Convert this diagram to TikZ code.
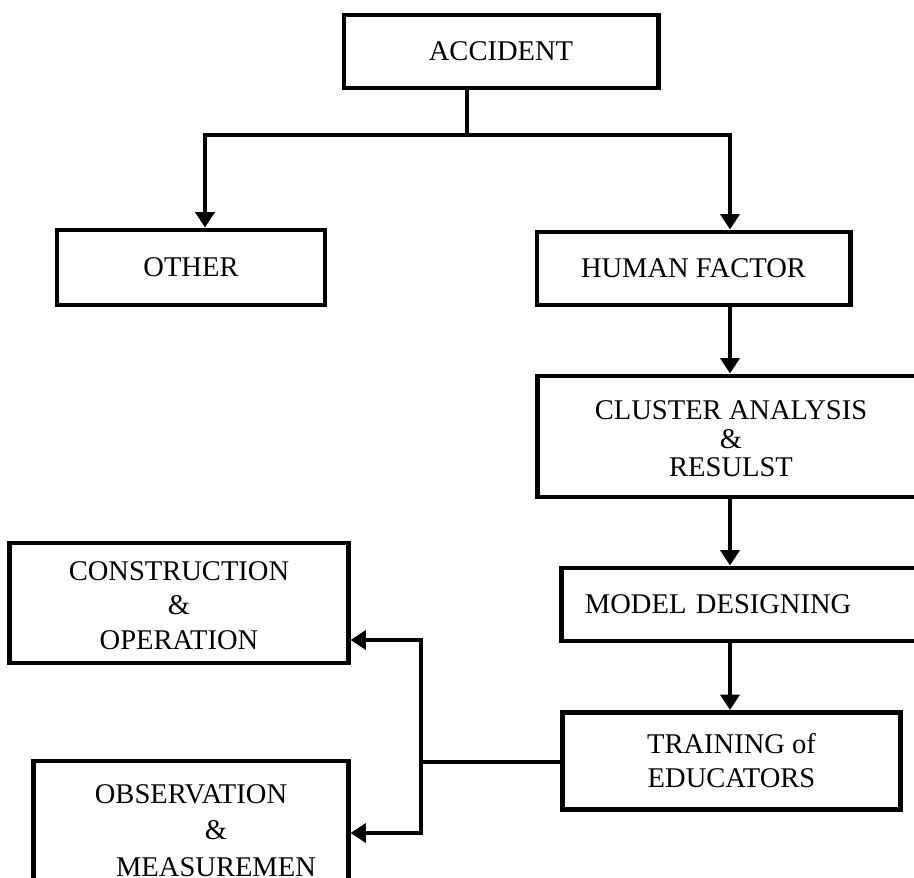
\documentclass[tikz,border=0pt]{standalone}
\usepackage{fontspec}
\setmainfont{Liberation Serif}
\usetikzlibrary{arrows.meta}

\begin{document}
\begin{tikzpicture}[
    x=0.025cm, y=-0.025cm,
    box/.style={draw, line width=3.5pt, inner sep=0pt, align=center,
        font=\fontsize{20.3}{24.5}\selectfont},
    link/.style={line width=3.5pt},
    arr/.style={line width=3.5pt, -{Triangle[length=11pt,width=13.5pt]}}
]
\path[use as bounding box, clip] (0,0) rectangle (914,878);

% =============================
% boxes
% =============================
\node[box, minimum width=7.85cm, minimum height=1.825cm] (acc) at (501,51.5) {ACCIDENT};
\node[box, minimum width=6.7cm, minimum height=1.875cm] (other) at (191,267.5) {OTHER};
\node[box, minimum width=7.825cm, minimum height=1.825cm] (hf) at (693.5,268.5) {HUMAN FACTOR};
\node[box, minimum width=9.65cm, minimum height=3.025cm,
      font=\fontsize{20.3}{20.3}\selectfont] (cluster) at (731,436.5)
      {\rule{0pt}{0.6cm}CLUSTER ANALYSIS\\\&\\RESULST};
\node[box, align=left, text width=8.3cm, inner xsep=0.575cm,
      minimum height=1.825cm] (model) at (751,604.5) {MODEL DESIGNING};
\node[box, minimum width=8.45cm, minimum height=2.425cm,
      font=\fontsize{20.3}{24.2}\selectfont] (train) at (731.5,761)
      {TRAINING of\\EDUCATORS};
\node[box, minimum width=8.45cm, minimum height=3cm] (cons) at (179,603)
      {\rule{0pt}{0.6cm}CONSTRUCTION\\\&\\OPERATION};
\node[box, minimum width=7.85cm, minimum height=3.475cm,
      font=\fontsize{20.3}{26}\selectfont] (obs) at (191,830.5)
      {OBSERVATION\\\hspace*{1.25cm}\&\\\hspace*{1.25cm}MEASUREMEN};

% =============================
% connectors
% =============================
\coordinate (split) at (467,135);
\coordinate (lft) at (205,135);
\coordinate (spine) at (730,135);

\draw[link] (acc.south -| split) -- (split);
\draw[arr] (split) -| (lft |- other.north);
\draw[arr] (split) -| (spine |- hf.north);
\draw[arr] (spine |- hf.south) -- (spine |- cluster.north);
\draw[arr] (spine |- cluster.south) -- (spine |- model.north);
\draw[arr] (spine |- model.south) -- (spine |- train.north);

\coordinate (bus) at (421,762);
\coordinate (upin) at (421,640);
\coordinate (lowin) at (421,833);

\draw[link] (train.west |- bus) -- (bus);
\draw[arr] (bus) -- (upin) -- (upin -| cons.east);
\draw[arr] (bus) -- (lowin) -- (lowin -| obs.east);
\end{tikzpicture}
\end{document}
